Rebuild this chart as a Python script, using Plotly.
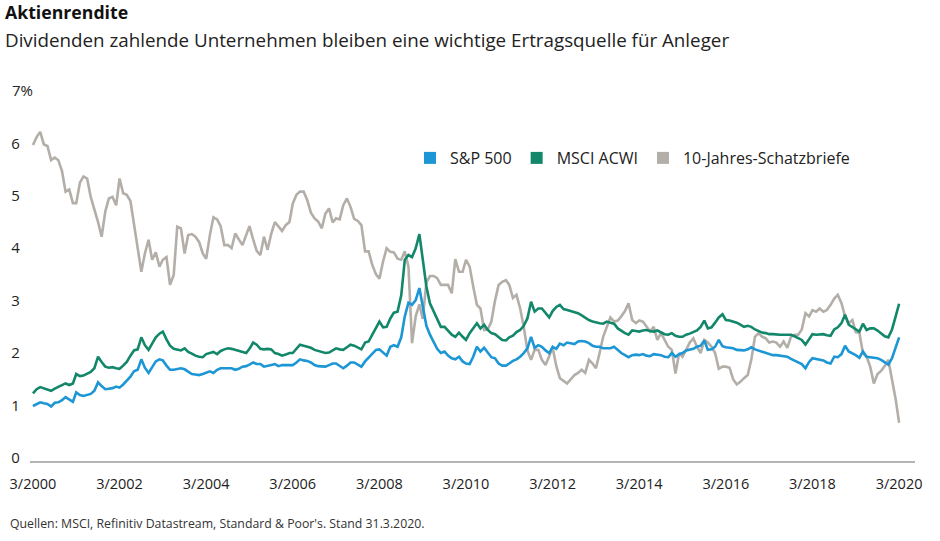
import pandas as pd
import plotly.graph_objects as go

# Monthly observations, March 2000 - March 2020 (in %)
dates = pd.date_range("2000-03-01", periods=241, freq="MS")

sp500 = [
    0.99, 1.03, 1.06, 1.04, 1.03, 0.98, 1.05, 1.06, 1.1, 1.16, 1.11, 1.07,
    1.25, 1.2, 1.18, 1.2, 1.22, 1.28, 1.44, 1.37, 1.31, 1.32, 1.33, 1.36,
    1.34, 1.4, 1.47, 1.55, 1.65, 1.68, 1.88, 1.72, 1.62, 1.74, 1.84, 1.88,
    1.86, 1.76, 1.68, 1.68, 1.69, 1.71, 1.69, 1.65, 1.6, 1.59, 1.58, 1.6,
    1.62, 1.65, 1.62, 1.68, 1.71, 1.71, 1.72, 1.71, 1.68, 1.7, 1.74, 1.75,
    1.78, 1.82, 1.79, 1.79, 1.74, 1.75, 1.77, 1.79, 1.75, 1.77, 1.77, 1.77,
    1.77, 1.82, 1.88, 1.86, 1.85, 1.82, 1.77, 1.75, 1.74, 1.74, 1.77, 1.8,
    1.8, 1.75, 1.71, 1.76, 1.82, 1.82, 1.78, 1.74, 1.84, 1.91, 1.97, 2.06,
    2.07, 2.0, 1.95, 2.12, 2.15, 2.12, 2.3, 2.7, 2.96, 2.92, 3.01, 3.24,
    2.92, 2.52, 2.35, 2.22, 2.08, 2.0, 2.03, 1.95, 1.9, 1.88, 1.93, 1.84,
    1.8, 1.79, 1.93, 2.12, 2.03, 2.1, 2.0, 1.92, 1.9, 1.8, 1.76, 1.76,
    1.8, 1.85, 1.88, 1.93, 2.0, 2.09, 2.31, 2.1, 2.15, 2.12, 2.05, 2.0,
    2.12, 2.08, 2.18, 2.15, 2.2, 2.18, 2.17, 2.22, 2.23, 2.22, 2.19, 2.14,
    2.12, 2.12, 2.09, 2.09, 2.09, 2.12, 2.06, 2.0, 1.96, 1.92, 1.96, 1.97,
    1.96, 1.98, 1.95, 1.94, 1.98, 1.97, 1.96, 1.93, 1.92, 2.0, 1.93, 1.98,
    2.0, 2.05, 2.07, 2.08, 2.12, 2.14, 2.24, 2.06, 2.07, 2.12, 2.25, 2.13,
    2.11, 2.1, 2.09, 2.06, 2.06, 2.05, 2.07, 2.11, 2.07, 2.05, 2.03, 2.0,
    1.98, 1.96, 1.96, 1.95, 1.94, 1.93, 1.89, 1.86, 1.83, 1.79, 1.71, 1.83,
    1.9, 1.89, 1.88, 1.86, 1.82, 1.8, 1.93, 1.92, 1.98, 2.14, 2.03, 2.0,
    1.96, 1.91, 2.03, 1.93, 1.92, 1.91, 1.9, 1.87, 1.83, 1.78, 1.9, 2.1,
    2.3,
]

msci_acwi = [
    1.23, 1.31, 1.35, 1.33, 1.31, 1.28, 1.32, 1.35, 1.38, 1.42, 1.39, 1.42,
    1.6, 1.56, 1.57, 1.6, 1.64, 1.71, 1.93, 1.83, 1.74, 1.72, 1.73, 1.71,
    1.7, 1.76, 1.83, 1.95, 2.05, 2.07, 2.3, 2.15, 2.06, 2.18, 2.3, 2.37,
    2.41, 2.26, 2.14, 2.08, 2.06, 2.05, 2.09, 2.02, 1.99, 1.95, 1.93, 1.92,
    1.98, 2.0, 2.02, 1.98, 2.04, 2.07, 2.09, 2.08, 2.06, 2.04, 2.01, 2.0,
    2.08, 2.2, 2.16, 2.08, 2.07, 2.08, 2.07, 2.0, 1.98, 1.95, 1.97, 2.0,
    2.0, 2.08, 2.16, 2.14, 2.12, 2.1, 2.06, 2.04, 2.02, 2.0, 2.01, 2.05,
    2.09, 2.07, 2.06, 2.11, 2.16, 2.14, 2.1, 2.07, 2.2, 2.22, 2.35, 2.47,
    2.6, 2.49, 2.5, 2.66, 2.77, 2.79, 3.1, 3.78, 3.87, 3.83, 4.0, 4.27,
    3.78, 3.27, 2.95, 2.79, 2.64, 2.5, 2.5, 2.42, 2.35, 2.31, 2.39, 2.31,
    2.25, 2.38, 2.47, 2.57, 2.47, 2.54, 2.44, 2.38, 2.36, 2.3, 2.25, 2.24,
    2.3, 2.33, 2.4, 2.44, 2.52, 2.66, 2.98, 2.79, 2.85, 2.85, 2.77, 2.68,
    2.8, 2.88, 2.92, 2.84, 2.82, 2.8, 2.78, 2.76, 2.72, 2.67, 2.63, 2.6,
    2.58, 2.57, 2.56, 2.6, 2.58, 2.56, 2.47, 2.42, 2.38, 2.35, 2.43, 2.42,
    2.41, 2.43, 2.44, 2.42, 2.41, 2.43, 2.4, 2.36, 2.35, 2.38, 2.33, 2.31,
    2.31, 2.35, 2.37, 2.4, 2.43, 2.5, 2.62, 2.47, 2.49, 2.58, 2.68, 2.74,
    2.63, 2.62, 2.6, 2.58, 2.54, 2.5, 2.52, 2.5, 2.45, 2.42, 2.39, 2.38,
    2.36, 2.36, 2.35, 2.35, 2.35, 2.35, 2.35, 2.32, 2.29, 2.25, 2.16, 2.26,
    2.36, 2.35, 2.35, 2.36, 2.34, 2.33, 2.45, 2.49, 2.57, 2.73, 2.54, 2.49,
    2.45, 2.41, 2.56, 2.44, 2.47, 2.47, 2.43, 2.38, 2.32, 2.3, 2.45, 2.7,
    2.94,
]

treasury_10y = [
    5.97, 6.12, 6.22, 5.98, 5.95, 5.68, 5.73, 5.68, 5.47, 5.08, 5.12, 4.86,
    4.86, 5.25, 5.37, 5.33, 4.98, 4.75, 4.5, 4.22, 4.7, 4.95, 4.98, 4.82,
    5.33, 5.05, 5.02, 4.9, 4.45, 4.0, 3.55, 3.9, 4.16, 3.78, 3.92, 3.65,
    3.78, 3.83, 3.3, 3.49, 4.41, 4.38, 3.9, 4.25, 4.27, 4.22, 4.12, 3.9,
    3.8, 4.25, 4.59, 4.55, 4.42, 4.06, 4.06, 4.0, 4.28, 4.17, 4.06, 4.25,
    4.42, 4.17, 3.95, 3.87, 4.22, 3.97, 4.28, 4.5, 4.42, 4.33, 4.44, 4.5,
    4.85, 5.02, 5.08, 5.08, 4.92, 4.68, 4.57, 4.51, 4.38, 4.66, 4.76, 4.49,
    4.57, 4.55, 4.82, 4.95, 4.79, 4.56, 4.52, 4.44, 3.94, 3.94, 3.68, 3.5,
    3.42, 3.75, 4.0, 3.93, 3.92, 3.8, 3.78, 3.94, 3.65, 2.19, 2.7, 2.93,
    2.65, 3.35, 3.47, 3.47, 3.43, 3.3, 3.3, 3.3, 3.14, 3.79, 3.55, 3.55,
    3.78, 3.65, 3.27, 2.92, 2.85, 2.44, 2.45, 2.6, 3.0, 3.3, 3.36, 3.39,
    3.3, 3.05, 3.11, 2.85, 2.5, 2.05, 1.87, 2.06, 2.06, 1.87, 1.77, 1.95,
    2.1, 1.75, 1.52, 1.47, 1.42, 1.5, 1.58, 1.62, 1.68, 1.62, 1.87, 1.8,
    1.71, 2.0, 2.31, 2.5, 2.68, 2.6, 2.62, 2.7, 2.8, 2.95, 2.63, 2.57,
    2.62, 2.6, 2.5, 2.41, 2.5, 2.25, 2.38, 2.25, 2.12, 2.06, 1.61, 2.0,
    1.93, 2.06, 2.2, 2.28, 2.12, 2.0, 2.25, 2.2, 2.12, 2.0, 1.7, 1.74,
    1.74, 1.72, 1.5, 1.4, 1.45, 1.52, 1.58, 1.87, 2.31, 2.38, 2.31, 2.28,
    2.2, 2.22, 2.2, 2.12, 2.22, 2.1, 2.31, 2.35, 2.35, 2.45, 2.76, 2.7,
    2.82, 2.79, 2.85, 2.79, 2.82, 2.92, 3.04, 3.11, 2.95, 2.7, 2.57, 2.63,
    2.4, 2.38, 2.0, 1.93, 1.74, 1.42, 1.6, 1.66, 1.75, 1.87, 1.5, 1.12,
    0.67,
]

series_names = ["S&P 500", "MSCI ACWI", "10-Jahres-Schatzbriefe"]
x_tick_dates = ["%d-03-01" % y for y in range(2000, 2021, 2)]
x_tick_labels = ["3/%d" % y for y in range(2000, 2021, 2)]
y_tick_vals = [0, 1, 2, 3, 4, 5, 6, 7]
y_tick_labels = ["0", "1", "2", "3", "4", "5", "6", "7%"]

title_text = "Aktienrendite"
subtitle_text = "Dividenden zahlende Unternehmen bleiben eine wichtige Ertragsquelle für Anleger"
source_text = "Quellen: MSCI, Refinitiv Datastream, Standard & Poor's. Stand 31.3.2020."

BLUE = "#1c96d4"
GREEN = "#12876a"
GRAY = "#b4aea9"
FONT = "Open Sans"

# visually left-align the single-digit y labels (the axis right-aligns them)
PAD = "\u00a0\u00a0\u00a0\u200a"
y_tick_text = [t if t.endswith("%") else t + PAD for t in y_tick_labels]

fig = go.Figure()

for vals, col in [(treasury_10y, GRAY), (msci_acwi, GREEN), (sp500, BLUE)]:
    fig.add_trace(go.Scatter(x=dates, y=vals, mode="lines",
                             line=dict(color=col, width=2.6),
                             showlegend=False, hoverinfo="skip"))

for name, col in zip(series_names, [BLUE, GREEN, GRAY]):
    fig.add_trace(go.Scatter(x=[None], y=[None], mode="markers", name=name,
                             marker=dict(symbol="square", size=12, color=col)))

W, H = 940, 541
plot_left, plot_right, plot_top, plot_bottom = 30, 915, 91, 461  # window pixels
ml = 0
mr = W - plot_right
mt = plot_top
mb = H - plot_bottom
pw = W - ml - mr
ph = H - mt - mb

def sx(px):
    return (px - ml) / pw

def sy(py):
    return 1 - (py - mt) / ph

fig.update_layout(
    width=W, height=H,
    margin=dict(l=ml, r=mr, t=mt, b=mb, autoexpand=False),
    paper_bgcolor="white", plot_bgcolor="white",
    font=dict(family=FONT, color="#222222"),
    xaxis=dict(
        domain=[sx(plot_left), 1],
        type="date",
        range=["2000-02-05", "2020-07-13"],
        tickvals=x_tick_dates, ticktext=x_tick_labels,
        tickfont=dict(size=14.5, color="#222222"),
        showgrid=False, zeroline=False,
        showline=True, linecolor="#b5b5b5", linewidth=1.5,
        ticks="", ticklabelstandoff=9, automargin=False,
    ),
    yaxis=dict(
        range=[-0.06, 7],
        tickvals=y_tick_vals, ticktext=y_tick_text,
        tickfont=dict(size=15, color="#222222"),
        showgrid=False, zeroline=False, showline=False, ticks="",
        ticklabelstandoff=-4, automargin=False,
    ),
    legend=dict(
        orientation="h",
        x=sx(410), y=sy(158),
        xanchor="left", yanchor="middle",
        font=dict(size=16, color="#222222"),
        bgcolor="rgba(0,0,0,0)",
        itemwidth=30,
    ),
    annotations=[
        dict(text="<b>" + title_text + "</b>", xref="paper", yref="paper",
             x=sx(3), y=sy(12), xanchor="left", yanchor="middle",
             showarrow=False, font=dict(size=17.7, color="#111111", family=FONT)),
        dict(text=subtitle_text, xref="paper", yref="paper",
             x=sx(3), y=sy(40), xanchor="left", yanchor="middle",
             showarrow=False, font=dict(size=18.8, color="#222222", family=FONT)),
        dict(text=source_text, xref="paper", yref="paper",
             x=sx(8), y=sy(523), xanchor="left", yanchor="middle",
             showarrow=False, font=dict(size=12.3, color="#333333", family=FONT)),
    ],
)

# remove the default 8px page margin so the figure fills the window exactly
fig.write_html("out.html", config={"displayModeBar": False},
               post_script="document.body.style.margin='0px';")
